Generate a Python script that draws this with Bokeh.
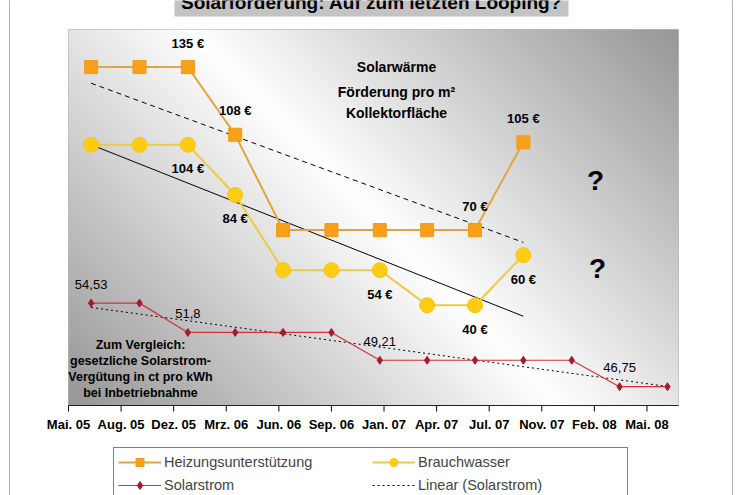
import numpy as np
import pandas as pd
from bokeh.plotting import figure
from bokeh.models import (Range1d, Legend, LegendItem, Label, BoxAnnotation,
                          ColumnDataSource)
from bokeh.core.properties import value
from bokeh.embed import file_html
from bokeh.resources import INLINE

# ---- data -------------------------------------------------------------
# quarterly reference dates
dates = ["2005-07-01", "2005-10-01", "2006-01-01", "2006-04-01", "2006-07-01",
         "2006-10-01", "2007-01-01", "2007-04-01", "2007-07-01", "2007-10-01",
         "2008-01-01", "2008-04-01", "2008-07-01"]

# Solarwärme: Förderung in € pro m² Kollektorfläche
heizung = [135, 135, 135, 108, 70, 70, 70, 70, 70, 105]
brauchwasser = [104, 104, 104, 84, 54, 54, 54, 40, 40, 60]

# gesetzliche Solarstrom-Vergütung in ct/kWh
solarstrom = [54.53, 54.53, 51.8, 51.8, 51.8, 51.8, 49.21, 49.21, 49.21,
              49.21, 49.21, 46.75, 46.75]

# points that carry a value label
heizung_labeled = [2, 3, 8, 9]
brauchwasser_labeled = [2, 3, 6, 8, 9]
solarstrom_labeled = [0, 2, 6, 11]

tick_labels = ["Mai. 05", "Aug. 05", "Dez. 05", "Mrz. 06", "Jun. 06", "Sep. 06",
               "Jan. 07", "Apr. 07", "Jul. 07", "Nov. 07", "Feb. 08", "Mai. 08"]

# ---- geometry ---------------------------------------------------------
# value ranges of the plot area
x_start = pd.Timestamp("2005-05-19")
x_end = x_start + pd.Timedelta(days=1160)
y_main = (0, 150)
y_strom = (45, 80)
tick_dates = [x_start + pd.Timedelta(days=100 * k) for k in range(len(tick_labels))]

to_ms = lambda t: int(pd.Timestamp(t).value // 10**6)

# canvas size and plot-area box (left, right, top, bottom) in pixels
CW, CH = 742, 495
PL, PR, PT, PB = 68, 678, 29, 405


def extend(lo, hi, before, after, span):
    k = (hi - lo) / span
    return lo - before * k, hi + after * k


xr = extend(to_ms(x_start), to_ms(x_end), PL, CW - PR, PR - PL)
yr = extend(*y_main, CH - PB, PT, PB - PT)
ysr = extend(*y_strom, CH - PB, PT, PB - PT)

FONT_NAME = "Liberation Sans"
FONT = value(FONT_NAME)

p = figure(width=CW, height=CH, x_axis_type="datetime",
           x_range=Range1d(*xr), y_range=Range1d(*yr),
           x_axis_location=None, y_axis_location=None,
           output_backend="svg", toolbar_location=None,
           min_border=0, outline_line_color=None,
           background_fill_color="white", border_fill_color="white")
p.extra_y_ranges = {"strom": Range1d(*ysr)}
p.grid.visible = False

# ---- diagonal gray/white background of the plot area -----------------
W, H = PR - PL, PB - PT
jj, ii = np.meshgrid(np.arange(W) + 0.5, np.arange(H) + 0.5)
from_top = H - ii
d = (jj - 122) * 0.713 - from_top * 0.701
t = np.clip(np.abs(d) / 350.0, 0, 1)
g = (255 - t * 105).astype(np.uint32)
bg = ((255 << 24) | (g << 16) | (g << 8) | g).astype(np.uint32)
p.image_rgba(image=[bg], x=to_ms(x_start), y=y_main[0],
             dw=to_ms(x_end) - to_ms(x_start), dh=y_main[1] - y_main[0],
             level="image")

# plot-area border
p.add_layout(BoxAnnotation(left=to_ms(x_start), right=to_ms(x_end),
                           bottom=y_main[0], top=y_main[1],
                           fill_alpha=0, line_color="#6a6a6a", line_width=1))

# ---- x axis (date axis along the bottom of the plot area) ---------------
p.line([x_start, x_end], [y_main[0]] * 2, line_color="black", line_width=1)
p.ray(x=tick_dates, y=[y_main[0]] * len(tick_dates), length=6,
      length_units="screen", angle=-np.pi / 2, line_color="black", line_width=1)
p.text(x=tick_dates, y=[y_main[0]] * len(tick_dates), text=tick_labels,
       y_offset=19, text_align="center", text_baseline="middle",
       text_font=FONT, text_font_style="bold", text_font_size="13px",
       text_color="black")

# ---- series -------------------------------------------------------------
xd = pd.to_datetime(dates)
xh = xd[:len(heizung)]
xb = xd[:len(brauchwasser)]
xs = xd[:len(solarstrom)]


def trend(xv, yv):
    days = np.array([(t - xv[0]).days for t in xv], dtype=float)
    k, c = np.polyfit(days, np.array(yv, dtype=float), 1)
    return [xv[0], xv[-1]], [c, k * days[-1] + c]


tx, ty = trend(xh, heizung)
p.line(tx, ty, line_color="black", line_width=1, line_dash="5 4")
tx, ty = trend(xb, brauchwasser)
p.line(tx, ty, line_color="black", line_width=1)
tx, ty = trend(xs, solarstrom)
lin_s = p.line(tx, ty, line_color="black", line_width=1, line_dash="2 3",
               y_range_name="strom")

line_h = p.line(xh, heizung, line_color="#E3A340", line_width=2)
mark_h = p.scatter(xh, heizung, marker="square", size=13,
                   fill_color="#F9A01B", line_color="#F39A16")

line_b = p.line(xb, brauchwasser, line_color="#EACB45", line_width=2)
mark_b = p.scatter(xb, brauchwasser, marker="circle", size=15,
                   fill_color="#FFCC14", line_color="#F5C515")

line_s = p.line(xs, solarstrom, line_color="#D0343A", line_width=1.2,
                y_range_name="strom")
mark_s = p.scatter(xs, solarstrom, marker="diamond", size=8,
                   fill_color="#A8192C", line_color="#A8192C",
                   y_range_name="strom")

# ---- value labels ---------------------------------------------------------
def euro_labels(xv, yv, idx, dy):
    src = ColumnDataSource(dict(x=[xv[i] for i in idx], y=[yv[i] for i in idx],
                                t=[f"{yv[i]:g} €" for i in idx]))
    p.text(x="x", y="y", text="t", source=src, y_offset=dy,
           text_align="center", text_baseline="middle", text_font=FONT,
           text_font_style="bold", text_font_size="13px", text_color="black")


euro_labels(xh, heizung, heizung_labeled, -24)
euro_labels(xb, brauchwasser, brauchwasser_labeled, 24)

src_s = ColumnDataSource(dict(
    x=[xs[i] for i in solarstrom_labeled],
    y=[solarstrom[i] for i in solarstrom_labeled],
    t=[f"{solarstrom[i]:g}".replace(".", ",") for i in solarstrom_labeled]))
p.text(x="x", y="y", text="t", source=src_s, y_offset=-19, y_range_name="strom",
       text_align="center", text_baseline="middle", text_font=FONT,
       text_font_size="13px", text_color="black")

# ---- annotations ----------------------------------------------------------
def note(x, y, text, size, bold=True):
    p.add_layout(Label(x=x, y=y, x_units="canvas", y_units="canvas", text=text,
                       text_align="center", text_baseline="middle",
                       text_font=FONT_NAME, text_font_size=size,
                       text_font_style="bold" if bold else "normal",
                       text_color="black"))


note(396, 66, "Solarwärme", "14px")
note(396, 91, "Förderung pro m²", "14px")
note(396, 112, "Kollektorfläche", "14px")
note(595, 180, "?", "28px")
note(597, 268, "?", "28px")

for k, line in enumerate(["Zum Vergleich:", "gesetzliche Solarstrom-",
                          "Vergütung in ct pro kWh", "bei Inbetriebnahme"]):
    note(140, 344 + 16 * k, line, "12.5px")

# title box, running off the top edge
p.add_layout(BoxAnnotation(left=174, right=568, top=-10, bottom=16,
                           left_units="canvas", right_units="canvas",
                           top_units="canvas", bottom_units="canvas",
                           fill_color="#c3c3c3", fill_alpha=1, line_color=None))
note(371, 1.5, "Solarförderung: Auf zum letzten Looping?", "19px")

# chart border
p.add_layout(BoxAnnotation(left=9, right=732, top=-10, bottom=CH + 20,
                           left_units="canvas", right_units="canvas",
                           top_units="canvas", bottom_units="canvas",
                           fill_alpha=0, line_color="black", line_width=1))

# ---- legend -----------------------------------------------------------------
legend = Legend(items=[
    LegendItem(label="Heizungsunterstützung", renderers=[line_h, mark_h]),
    LegendItem(label="Brauchwasser", renderers=[line_b, mark_b]),
    LegendItem(label="Solarstrom", renderers=[line_s, mark_s]),
    LegendItem(label="Linear (Solarstrom)", renderers=[lin_s]),
], location=(113, -5), orientation="horizontal", ncols=2,
    glyph_width=43, glyph_height=20, label_height=20, label_width=205,
    label_standoff=3, spacing=3, padding=4,
    label_text_font=FONT_NAME, label_text_font_size="14.5px",
    border_line_color="black", border_line_width=1,
    background_fill_color="white", background_fill_alpha=1)
p.add_layout(legend)

open("out.html", "w").write(file_html(p, INLINE))
